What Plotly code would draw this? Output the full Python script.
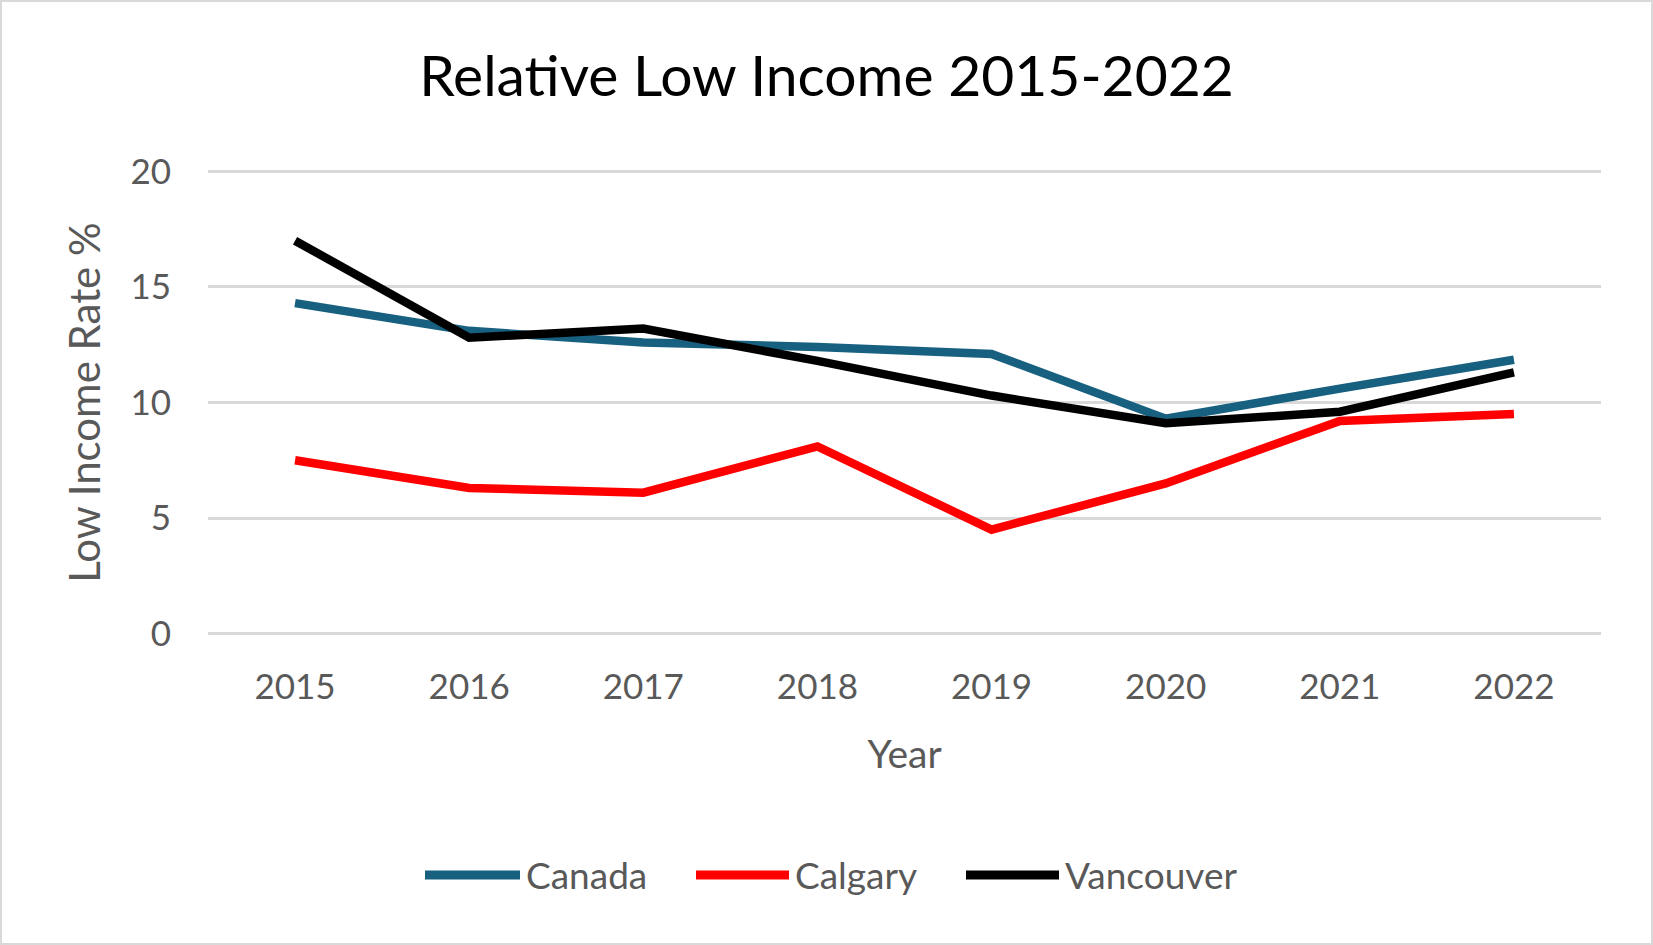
import plotly.graph_objects as go

years = ["2015", "2016", "2017", "2018", "2019", "2020", "2021", "2022"]
canada = [14.3, 13.1, 12.6, 12.4, 12.1, 9.3, 10.6, 11.85]
calgary = [7.5, 6.3, 6.1, 8.1, 4.5, 6.5, 9.2, 9.5]
vancouver = [17.0, 12.8, 13.2, 11.8, 10.3, 9.1, 9.6, 11.3]
series_names = ["Canada", "Calgary", "Vancouver"]
colors = ["#17607F", "#FF0000", "#000000"]

W, H = 1653, 945
ML, MR, MT, MB = 208, 52, 169, 309
PW, PH = W - ML - MR, H - MT - MB

FONT = "Lato"
GREY = "#595959"

fig = go.Figure()
for name, vals, col in zip(series_names, [canada, calgary, vancouver], colors):
    fig.add_trace(go.Scatter(x=years, y=vals, name=name, mode="lines",
                             line=dict(color=col, width=8.5), showlegend=False))

def px_x(p):
    return (p - ML) / PW

def px_y(p):
    return (H - MB - p) / PH

# custom legend (long line swatches like the original)
legend_items = [(425, 520, 524), (696, 789, 793), (966, 1059, 1063)]
shapes = []
annotations = []
for (x0, x1, xt), name, col in zip(legend_items, series_names, colors):
    shapes.append(dict(type="line", xref="paper", yref="paper",
                       x0=px_x(x0), x1=px_x(x1), y0=px_y(875), y1=px_y(875),
                       line=dict(color=col, width=9)))
    annotations.append(dict(text=name, xref="paper", yref="paper",
                            x=px_x(xt), y=px_y(875), xanchor="left", yanchor="middle",
                            showarrow=False, font=dict(family=FONT, size=37, color=GREY)))

# chart border
shapes.append(dict(type="rect", xref="paper", yref="paper",
                   x0=px_x(1), x1=px_x(W - 1), y0=px_y(H - 1), y1=px_y(1),
                   line=dict(color="#D9D9D9", width=2), layer="below"))

fig.update_layout(
    width=W, height=H,
    margin=dict(l=ML, r=MR, t=MT, b=MB),
    paper_bgcolor="white", plot_bgcolor="white",
    title=dict(text="Relative Low Income 2015-2022", x=0.5, xanchor="center",
               y=1 - 76 / H, yanchor="middle",
               font=dict(family=FONT, size=57, color="#000000")),
    xaxis=dict(type="category", range=[-0.5, 7.5], showgrid=False, zeroline=False,
               showline=False, ticks="", tickfont=dict(family=FONT, size=35, color=GREY),
               ticklabelstandoff=27,
               title=dict(text="Year", font=dict(family=FONT, size=39, color=GREY), standoff=35)),
    yaxis=dict(range=[-0.1, 20.1], tickvals=[0, 5, 10, 15, 20], showgrid=True,
               gridcolor="#D9D9D9", gridwidth=2.5,
               zeroline=False, showline=False, ticks="",
               tickfont=dict(family=FONT, size=35, color=GREY), ticklabelstandoff=36,
               title=dict(text="Low Income Rate %", font=dict(family=FONT, size=42, color=GREY),
                          standoff=16)),
    shapes=shapes, annotations=annotations,
)

fig.write_html("out.html")
